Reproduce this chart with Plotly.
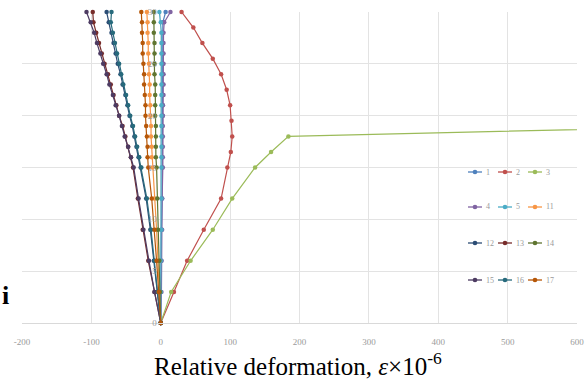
import plotly.graph_objects as go

# ---------------- data ----------------
levels_main = [30, 29, 28, 27, 26, 25, 24, 23, 22, 21, 20, 19, 18, 17, 16, 15, 12, 9, 6, 3, 0]
levels_red = [30, 28.5, 27, 25.5, 24, 22.5, 21, 19.5, 18, 16.5, 15, 12, 9, 6, 3, 0]
levels_green = [0, 3, 6, 9, 12, 15, 16.5, 18, 19.5]

s1 = [7, 3, 3, 3, 3, 3, 3, 3, 3, 3, 3, 2, 2, 2, 2, 2, 2, 1, 1, 0, 0]
s2 = [30, 47, 60, 75, 87, 95, 100, 102, 103, 101, 96, 87, 62, 38, 19, 0]
s3 = [0, 15, 43, 75, 103, 136, 159, 184, 1130]
s4 = [14, 5, 4, 4, 4, 4, 4, 4, 4, 3, 3, 3, 3, 3, 3, 3, 2, 2, 1, 1, 0]
s5 = [-2, 0, 1, 1, 1, 1, 1, 1, 1, 1, 1, 1, 1, 1, 1, 1, 1, 1, 0, 0, 0]
s11 = [-20, -19, -19, -18, -18, -17, -17, -16, -16, -15, -15, -14, -14, -13, -13, -12, -9, -6, -4, -2, 0]
s12 = [-78, -75, -71, -68, -65, -62, -58, -55, -51, -48, -45, -41, -38, -35, -32, -29, -21, -15, -10, -5, 0]
s13 = [-98, -97, -93, -89, -85, -81, -76, -72, -68, -64, -60, -55, -51, -47, -43, -40, -33, -26, -18, -9, 0]
s14 = [-10, -10, -10, -9, -9, -9, -9, -8, -8, -8, -8, -7, -7, -7, -7, -6, -5, -4, -2, -1, 0]
s15 = [-107, -101, -96, -92, -87, -83, -78, -74, -69, -65, -60, -56, -52, -47, -43, -39, -32, -25, -17, -9, 0]
s16 = [-71, -72, -69, -66, -63, -60, -57, -54, -50, -47, -44, -40, -37, -34, -31, -28, -20, -14, -9, -4, 0]
s17 = [-28, -27, -27, -26, -26, -25, -24, -24, -23, -22, -22, -21, -20, -19, -19, -18, -13, -9, -6, -3, 0]

series_names = ["1", "2", "3", "4", "5", "11", "12", "13", "14", "15", "16", "17"]
series_x = [s1, s2, s3, s4, s5, s11, s12, s13, s14, s15, s16, s17]
series_y = [levels_main, levels_red, levels_green, levels_main, levels_main, levels_main,
            levels_main, levels_main, levels_main, levels_main, levels_main, levels_main]
series_colors = ["#4F81BD", "#C0504D", "#9BBB59", "#8064A2", "#4BACC6", "#F79646",
                 "#2C4D75", "#772C2A", "#5F7530", "#4D3B62", "#276A7C", "#B65708"]

x_ticks = [-200, -100, 0, 100, 200, 300, 400, 500, 600]
y_ticks = [0, 5, 10, 15, 20, 25, 30]
legend_rows = [["1", "2", "3"], ["4", "5", "11"], ["12", "13", "14"], ["15", "16", "17"]]

# ---------------- figure ----------------
W, H = 585, 383
ML, MR, MT, MB = 22, 8, 12, 60

fig = go.Figure()
for name, xs, ys, col in zip(series_names, series_x, series_y, series_colors):
    fig.add_trace(go.Scatter(
        x=xs, y=ys, mode="lines+markers", name=name,
        line=dict(color=col, width=1.2),
        marker=dict(color=col, size=4.5),
        cliponaxis=False, showlegend=False))

tick_font = dict(family="Liberation Serif", size=9, color="#9a9a9a")
fig.update_layout(
    width=W, height=H,
    margin=dict(l=ML, r=MR, t=MT, b=MB, autoexpand=False),
    paper_bgcolor="white", plot_bgcolor="white",
    showlegend=False,
    xaxis=dict(range=[-200, 600], tickvals=x_ticks, ticktext=[str(v) for v in x_ticks],
               showgrid=True, gridcolor="#e3e3e3", gridwidth=1, zeroline=False,
               showline=True, linecolor="#d9d9d9", ticks="", tickfont=tick_font,
               ticklabelstandoff=10, automargin=False),
    yaxis=dict(range=[0, 30], tickvals=y_ticks, ticktext=[str(v) for v in y_ticks],
               anchor="free", position=0.25, layer="above traces",
               showgrid=True, gridcolor="#e3e3e3", gridwidth=1, zeroline=False,
               showline=False, ticks="", tickfont=tick_font,
               ticklabelstandoff=4, automargin=False),
)

def px2fx(px):
    return (px - ML) / (W - ML - MR)

def py2fy(py):
    return (H - MB - py) / (H - MT - MB)

# legend (drawn as a compact 3-column block, like the original)
row_py = [172, 207, 243, 280]
col_px = [468, 498, 528]
color_of = dict(zip(series_names, series_colors))
for r, row in enumerate(legend_rows):
    for c, name in enumerate(row):
        col = color_of[name]
        x0 = col_px[c]
        y = py2fy(row_py[r])
        fig.add_shape(type="line", xref="paper", yref="paper",
                      x0=px2fx(x0), x1=px2fx(x0 + 14), y0=y, y1=y,
                      line=dict(color=col, width=1.3))
        fig.add_shape(type="circle", xref="paper", yref="paper",
                      xsizemode="pixel", ysizemode="pixel",
                      xanchor=px2fx(x0 + 7), yanchor=y,
                      x0=-2.3, x1=2.3, y0=-2.3, y1=2.3,
                      fillcolor=col, line=dict(color=col, width=0))
        fig.add_annotation(xref="paper", yref="paper", x=px2fx(x0 + 16), y=y,
                           text=name, showarrow=False, xanchor="left", yanchor="middle",
                           font=dict(family="Liberation Serif", size=8, color="#9a9a9a"))

# axis title
fig.add_annotation(xref="paper", yref="paper", x=px2fx(152), y=py2fy(364),
                   text="Relative deformation, <i>ε</i>×10<sup>-6</sup>",
                   showarrow=False, xanchor="left", yanchor="middle",
                   font=dict(family="Liberation Serif", size=25, color="black"))
# cropped remnant of the vertical title
fig.add_annotation(xref="paper", yref="paper", x=px2fx(0), y=py2fy(295),
                   text="<b>i</b>", showarrow=False, xanchor="left", yanchor="middle",
                   font=dict(family="Liberation Serif", size=26, color="black"))

fig.write_html("out.html", config={"displayModeBar": False},
               post_script="document.body.style.margin='0';document.body.style.overflow='hidden';")
